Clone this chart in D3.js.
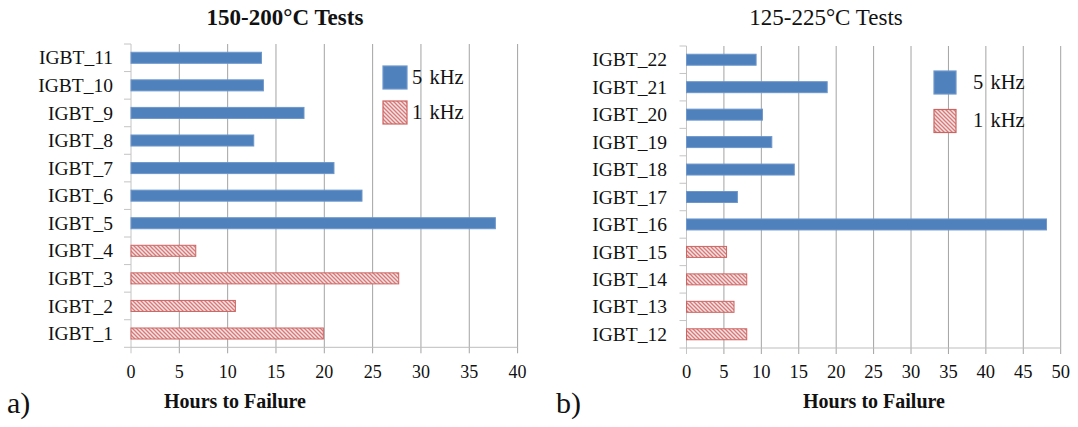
<!DOCTYPE html>
<html>
<head>
<meta charset="utf-8">
<script src="https://cdn.jsdelivr.net/npm/d3@7"></script>
<style>
  html, body { margin: 0; padding: 0; background: #ffffff; }
  svg { display: block; }
</style>
</head>
<body>
<svg id="chart" width="1078" height="427"></svg>
<script>
// ---- Panel a): 150-200°C tests ----
const devicesA = ["IGBT_11", "IGBT_10", "IGBT_9", "IGBT_8", "IGBT_7", "IGBT_6",
                  "IGBT_5", "IGBT_4", "IGBT_3", "IGBT_2", "IGBT_1"];
const hoursA   = [13.5, 13.7, 17.9, 12.7, 21.0, 23.9, 37.7, 6.7, 27.7, 10.8, 19.9];
const freqA    = ["5 kHz", "5 kHz", "5 kHz", "5 kHz", "5 kHz", "5 kHz", "5 kHz",
                  "1 kHz", "1 kHz", "1 kHz", "1 kHz"];
const ticksA   = [0, 5, 10, 15, 20, 25, 30, 35, 40];

// ---- Panel b): 125-225°C tests ----
const devicesB = ["IGBT_22", "IGBT_21", "IGBT_20", "IGBT_19", "IGBT_18", "IGBT_17",
                  "IGBT_16", "IGBT_15", "IGBT_14", "IGBT_13", "IGBT_12"];
const hoursB   = [9.3, 18.8, 10.15, 11.4, 14.4, 6.8, 48.1, 5.35, 8.05, 6.35, 8.05];
const freqB    = ["5 kHz", "5 kHz", "5 kHz", "5 kHz", "5 kHz", "5 kHz", "5 kHz",
                  "1 kHz", "1 kHz", "1 kHz", "1 kHz"];
const ticksB   = [0, 5, 10, 15, 20, 25, 30, 35, 40, 45, 50];

const legendKeys = ["5 kHz", "1 kHz"];

const FONT = "'Liberation Serif', 'Times New Roman', Times, 'Nimbus Roman', 'DejaVu Serif', serif";

const svg = d3.select("#chart")
  .attr("font-family", FONT);
svg.append("rect").attr("width", 1078).attr("height", 427).attr("fill", "#fff");

// Hatched fill for the 1 kHz series
const defs = svg.append("defs");
const pat = defs.append("pattern")
  .attr("id", "hatch")
  .attr("patternUnits", "userSpaceOnUse")
  .attr("width", 4).attr("height", 4);
pat.append("rect").attr("width", 4).attr("height", 4).attr("fill", "#f7e3e3");
pat.append("path")
  .attr("d", "M0,0 L4,4 M-1,3 L1,5 M3,-1 L5,1")
  .attr("stroke", "#d47a78").attr("stroke-width", 1.3);

const styleFor = {
  "5 kHz": { fill: "#4f81bd", stroke: "#6d97cb" },
  "1 kHz": { fill: "url(#hatch)", stroke: "#cd6462" }
};

function label(sel) {
  return sel.attr("font-family", FONT).attr("fill", "#111");
}

function drawPanel(cfg) {
  const g = svg.append("g");

  const x = d3.scaleLinear().domain(cfg.xDomain).range([cfg.left, cfg.right]);
  const y = d3.scaleBand().domain(cfg.devices)
    .range([cfg.top, cfg.bottom]).paddingInner(0.6).paddingOuter(0.3);

  // vertical gridlines, with short ticks below the plot
  g.selectAll("line.grid").data(cfg.ticks).join("line")
    .attr("x1", d => x(d)).attr("x2", d => x(d))
    .attr("y1", cfg.top).attr("y2", cfg.bottom + 6)
    .attr("stroke", d => d === 0 ? "#c4c4c4" : "#a3a3a3")
    .attr("stroke-width", 1);

  // bottom axis line
  g.append("line")
    .attr("x1", x(cfg.xDomain[0])).attr("x2", x(cfg.xDomain[1]))
    .attr("y1", cfg.bottom).attr("y2", cfg.bottom)
    .attr("stroke", "#bdbdbd");

  // category boundary ticks on the left axis
  const bounds = d3.range(cfg.devices.length + 1).map(i => y.range()[0] + i * y.step());
  g.selectAll("line.ytick").data(bounds).join("line")
    .attr("x1", x(0) - 7).attr("x2", x(0))
    .attr("y1", d => d).attr("y2", d => d)
    .attr("stroke", "#c4c4c4");

  // bars
  g.selectAll("rect.bar").data(cfg.devices).join("rect")
    .attr("x", x(0))
    .attr("y", d => y(d))
    .attr("width", (d, i) => x(cfg.hours[i]) - x(0))
    .attr("height", y.bandwidth())
    .attr("fill", (d, i) => styleFor[cfg.freq[i]].fill)
    .attr("stroke", (d, i) => styleFor[cfg.freq[i]].stroke)
    .attr("stroke-width", 1);

  // category labels
  g.selectAll("text.cat").data(cfg.devices).join("text")
    .call(label)
    .attr("x", cfg.labelX)
    .attr("y", d => y(d) + y.bandwidth() / 2 + 6.6)
    .attr("text-anchor", "end")
    .attr("font-size", 19.5)
    .text(d => d);

  // tick labels
  g.selectAll("text.tick").data(cfg.ticks).join("text")
    .call(label)
    .attr("x", d => x(d))
    .attr("y", cfg.tickY)
    .attr("text-anchor", "middle")
    .attr("font-size", cfg.tickSize)
    .text(d => d);

  // title
  g.append("text").call(label)
    .attr("x", cfg.titleX).attr("y", 25)
    .attr("text-anchor", "middle")
    .attr("font-size", 23)
    .attr("font-weight", cfg.titleWeight)
    .text(cfg.title);

  // axis title
  g.append("text").call(label)
    .attr("x", cfg.axisTitleX).attr("y", 408)
    .attr("text-anchor", "middle")
    .attr("font-size", 20)
    .attr("font-weight", "bold")
    .text("Hours to Failure");

  // panel letter
  g.append("text").call(label)
    .attr("x", cfg.letterX).attr("y", 413)
    .attr("font-size", 30)
    .text(cfg.letter);

  // legend
  const lg = g.append("g");
  legendKeys.forEach((k, i) => {
    lg.append("rect")
      .attr("x", cfg.legend.x).attr("y", cfg.legend.y + i * cfg.legend.dy)
      .attr("width", cfg.legend.w).attr("height", 23)
      .attr("fill", "#fff");
    lg.append("rect")
      .attr("x", cfg.legend.x).attr("y", cfg.legend.y + i * cfg.legend.dy)
      .attr("width", cfg.legend.w).attr("height", 23)
      .attr("fill", styleFor[k].fill)
      .attr("stroke", styleFor[k].stroke)
      .attr("stroke-width", 1.2);
    lg.append("text").call(label)
      .attr("x", cfg.legend.tx).attr("y", cfg.legend.y + i * cfg.legend.dy + 17.5)
      .attr("font-size", 20.5)
      .attr("word-spacing", 2)
      .text(k);
  });
}

drawPanel({
  devices: devicesA, hours: hoursA, freq: freqA, ticks: ticksA,
  xDomain: [0, 40], left: 131, right: 517.6, top: 44, bottom: 347.3,
  labelX: 113, tickY: 378, tickSize: 18,
  title: "150-200°C Tests", titleX: 285, titleWeight: "bold",
  axisTitleX: 235, letter: "a)", letterX: 7,
  legend: { x: 383, y: 66, w: 24, dy: 35, tx: 412 }
});

drawPanel({
  devices: devicesB, hours: hoursB, freq: freqB, ticks: ticksB,
  xDomain: [0, 50], left: 686.5, right: 1060.7, top: 46, bottom: 348,
  labelX: 667, tickY: 377.5, tickSize: 18.5,
  title: "125-225°C Tests", titleX: 826, titleWeight: "normal",
  axisTitleX: 874, letter: "b)", letterX: 556,
  legend: { x: 934, y: 71, w: 22, dy: 38.5, tx: 973 }
});
</script>
</body>
</html>
